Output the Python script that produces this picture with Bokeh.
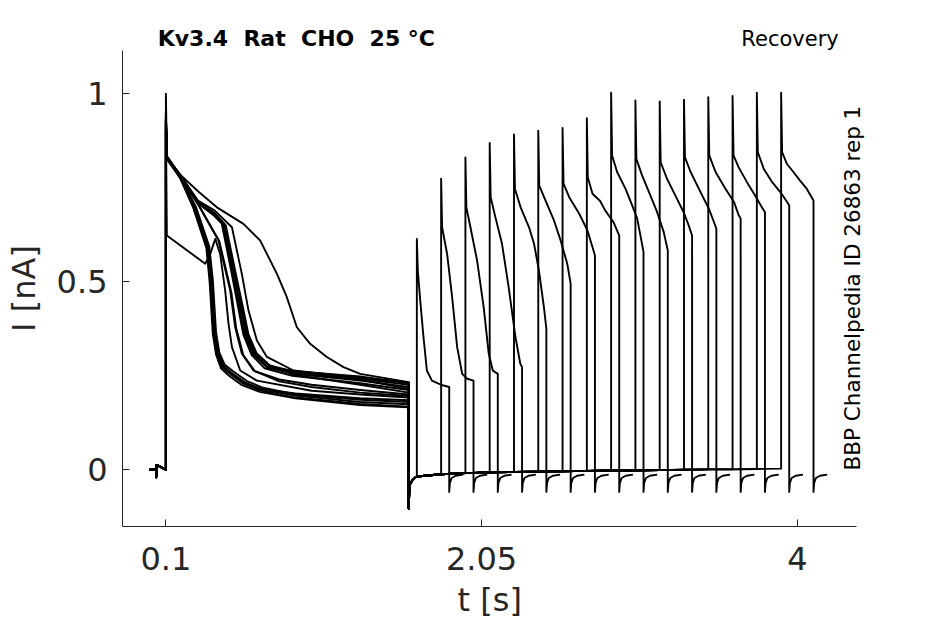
import math
from bokeh.plotting import figure
from bokeh.layouts import column
from bokeh.models import ColumnDataSource, Range1d, FixedTicker, Label, Title
from bokeh.embed import file_html
from bokeh.resources import INLINE

# ---------------- data ----------------
HOLD_T = [0.0, 0.038, 0.04, 0.042, 0.1]
HOLD_I = [0.0, 0.0, -0.02, 0.013, 0.0]

PRE_SPIKE = [1.0, 0.93, 0.94, 0.92, 0.95, 0.93, 0.9, 0.93,
             0.94, 0.92, 0.93, 0.91, 0.95, 0.93, 0.92, 0.94]

PRE_T = [
    [0.106, 0.188, 0.27, 0.353, 0.374, 0.384, 0.394, 0.415, 0.446, 0.497, 0.579, 0.682, 0.888, 1.3, 1.6],
    [0.106, 0.19, 0.28, 0.36, 0.382, 0.392, 0.402, 0.423, 0.455, 0.505, 0.59, 0.69, 0.9, 1.3, 1.6],
    [0.106, 0.19, 0.285, 0.368, 0.39, 0.4, 0.41, 0.43, 0.462, 0.515, 0.6, 0.7, 0.9, 1.3, 1.6],
    [0.106, 0.343, 0.374, 0.405, 0.435, 0.466, 0.487, 0.508, 0.559, 0.662, 1.0, 1.3, 1.6],
    [0.106, 0.188, 0.3, 0.425, 0.497, 0.528, 0.569, 0.641, 0.8, 1.0, 1.3, 1.6],
    [0.106, 0.188, 0.3, 0.4, 0.456, 0.518, 0.559, 0.59, 0.641, 0.724, 0.888, 1.3, 1.6],
    [0.106, 0.188, 0.3, 0.4, 0.445, 0.505, 0.545, 0.578, 0.63, 0.71, 0.88, 1.3, 1.6],
    [0.106, 0.188, 0.3, 0.4, 0.465, 0.528, 0.57, 0.6, 0.652, 0.735, 0.9, 1.3, 1.6],
    [0.106, 0.188, 0.3, 0.4, 0.45, 0.512, 0.552, 0.584, 0.636, 0.72, 0.89, 1.3, 1.6],
    [0.106, 0.188, 0.3, 0.4, 0.47, 0.535, 0.578, 0.61, 0.66, 0.745, 0.9, 1.3, 1.6],
    [0.106, 0.188, 0.3, 0.4, 0.508, 0.569, 0.61, 0.662, 0.724, 0.888, 1.3, 1.6],
    [0.106, 0.188, 0.3, 0.415, 0.579, 0.682, 0.786, 0.847, 0.909, 0.991, 1.094, 1.197, 1.3, 1.6],
    [0.106, 0.188, 0.27, 0.35, 0.37, 0.38, 0.39, 0.41, 0.44, 0.49, 0.57, 0.68, 0.9, 1.3, 1.6],
    [0.106, 0.188, 0.3, 0.43, 0.505, 0.535, 0.578, 0.65, 0.8, 1.0, 1.3, 1.6],
    [0.106, 0.188, 0.3, 0.4, 0.46, 0.522, 0.564, 0.595, 0.646, 0.73, 0.89, 1.3, 1.6],
    [0.106, 0.19, 0.28, 0.36, 0.38, 0.39, 0.4, 0.42, 0.45, 0.5, 0.58, 0.69, 0.9, 1.3, 1.6],
]
PRE_I = [
    [0.831, 0.778, 0.698, 0.592, 0.503, 0.432, 0.362, 0.309, 0.273, 0.255, 0.229, 0.211, 0.193, 0.175, 0.168],
    [0.826, 0.775, 0.694, 0.59, 0.5, 0.43, 0.36, 0.31, 0.277, 0.258, 0.232, 0.214, 0.197, 0.18, 0.174],
    [0.835, 0.78, 0.70, 0.594, 0.505, 0.435, 0.365, 0.312, 0.28, 0.262, 0.236, 0.218, 0.2, 0.186, 0.18],
    [0.623, 0.548, 0.574, 0.614, 0.574, 0.477, 0.388, 0.326, 0.264, 0.237, 0.21, 0.2, 0.192],
    [0.831, 0.78, 0.705, 0.61, 0.477, 0.379, 0.309, 0.264, 0.235, 0.22, 0.205, 0.196],
    [0.831, 0.782, 0.71, 0.68, 0.654, 0.521, 0.432, 0.362, 0.309, 0.273, 0.255, 0.237, 0.22],
    [0.829, 0.78, 0.708, 0.675, 0.655, 0.525, 0.435, 0.36, 0.305, 0.27, 0.25, 0.23, 0.212],
    [0.833, 0.784, 0.712, 0.682, 0.652, 0.518, 0.43, 0.364, 0.312, 0.278, 0.26, 0.242, 0.226],
    [0.83, 0.781, 0.709, 0.678, 0.655, 0.523, 0.433, 0.361, 0.307, 0.275, 0.262, 0.248, 0.23],
    [0.832, 0.783, 0.711, 0.683, 0.65, 0.515, 0.428, 0.36, 0.31, 0.276, 0.252, 0.226, 0.205],
    [0.831, 0.785, 0.715, 0.69, 0.645, 0.521, 0.424, 0.344, 0.30, 0.264, 0.245, 0.232],
    [0.831, 0.785, 0.74, 0.698, 0.654, 0.61, 0.521, 0.459, 0.379, 0.335, 0.30, 0.273, 0.255, 0.233],
    [0.828, 0.776, 0.696, 0.59, 0.5, 0.43, 0.36, 0.306, 0.27, 0.25, 0.225, 0.207, 0.19, 0.172, 0.166],
    [0.83, 0.781, 0.706, 0.608, 0.47, 0.375, 0.305, 0.262, 0.24, 0.226, 0.212, 0.2],
    [0.831, 0.782, 0.71, 0.679, 0.652, 0.52, 0.431, 0.363, 0.31, 0.272, 0.258, 0.24, 0.215],
    [0.83, 0.777, 0.697, 0.591, 0.502, 0.433, 0.364, 0.31, 0.275, 0.257, 0.232, 0.215, 0.203, 0.19, 0.185],
]

BASE_T = [1.6, 1.603, 1.609, 1.629, 1.65, 1.8, 1.95, 2.1, 2.25, 2.4, 2.55, 2.7,
          2.85, 3.0, 3.15, 3.3, 3.45, 3.6, 3.75, 3.9]
BASE_I = [-0.104, -0.06, -0.037, -0.024, -0.018, -0.012, -0.009, -0.007, -0.006, -0.005,
          -0.004, -0.003, -0.002, -0.002, -0.001, 0.0, 0.001, 0.001, 0.002, 0.003]

TEST_START = [1.65, 1.80, 1.95, 2.10, 2.25, 2.40, 2.55, 2.70,
              2.85, 3.00, 3.15, 3.30, 3.45, 3.60, 3.75, 3.90]
TEST_PEAK = [0.614, 0.774, 0.831, 0.869, 0.892, 0.902, 0.909, 0.935,
             1.003, 0.982, 0.980, 0.984, 0.991, 0.994, 1.003, 1.003]
TEST_DT = [
    [0.006, 0.021, 0.041, 0.062, 0.093, 0.134, 0.165, 0.2],
    [0.006, 0.037, 0.068, 0.099, 0.13, 0.161, 0.2],
    [0.006, 0.031, 0.072, 0.113, 0.144, 0.169, 0.2],
    [0.006, 0.035, 0.076, 0.117, 0.159, 0.189, 0.2],
    [0.006, 0.041, 0.093, 0.124, 0.154, 0.185, 0.2],
    [0.006, 0.045, 0.097, 0.138, 0.179, 0.2],
    [0.006, 0.041, 0.103, 0.154, 0.185, 0.2],
    [0.006, 0.035, 0.082, 0.113, 0.164, 0.2],
    [0.006, 0.037, 0.089, 0.13, 0.161, 0.185, 0.2],
    [0.006, 0.041, 0.093, 0.134, 0.175, 0.2],
    [0.006, 0.045, 0.097, 0.148, 0.179, 0.2],
    [0.006, 0.041, 0.103, 0.154, 0.185, 0.2],
    [0.006, 0.045, 0.107, 0.159, 0.189, 0.2],
    [0.006, 0.037, 0.089, 0.14, 0.181, 0.2],
    [0.006, 0.043, 0.095, 0.146, 0.187, 0.2],
    [0.006, 0.035, 0.076, 0.117, 0.159, 0.2],
]
TEST_I = [
    [0.53, 0.45, 0.353, 0.264, 0.237, 0.229, 0.224, 0.22],
    [0.645, 0.574, 0.459, 0.326, 0.255, 0.242, 0.237],
    [0.698, 0.645, 0.557, 0.432, 0.309, 0.264, 0.255],
    [0.725, 0.672, 0.601, 0.486, 0.353, 0.282, 0.273],
    [0.747, 0.698, 0.645, 0.601, 0.53, 0.432, 0.375],
    [0.756, 0.716, 0.663, 0.61, 0.548, 0.495],
    [0.761, 0.725, 0.681, 0.636, 0.592, 0.57],
    [0.778, 0.734, 0.715, 0.69, 0.659, 0.623],
    [0.836, 0.792, 0.747, 0.703, 0.668, 0.614, 0.579],
    [0.827, 0.783, 0.729, 0.685, 0.632, 0.583],
    [0.818, 0.774, 0.729, 0.685, 0.65, 0.623],
    [0.831, 0.792, 0.738, 0.694, 0.659, 0.641],
    [0.836, 0.792, 0.747, 0.712, 0.676, 0.668],
    [0.836, 0.805, 0.765, 0.729, 0.698, 0.685],
    [0.845, 0.80, 0.765, 0.738, 0.712, 0.703],
    [0.845, 0.814, 0.792, 0.769, 0.747, 0.716],
]
TEST_LEN = 0.2
TAIL_DT = [0.0, 0.004, 0.015, 0.04, 0.085]
TAIL_I = [-0.059, -0.035, -0.022, -0.016, -0.013]

X_TICKS = [0.1, 2.05, 4]
X_TICK_LABELS = ["0.1", "2.05", "4"]
Y_TICKS = [0, 0.5, 1]
Y_TICK_LABELS = ["0", "0.5", "1"]

# double gaps kept visible in SVG with a no-break space
TITLE = "Kv3.4\u00a0 Rat\u00a0 CHO\u00a0 25 °C"
PROTOCOL = "Recovery"
SOURCE = "BBP Channelpedia ID 26863 rep 1"

# ---------------- build traces ----------------
xs, ys = [], []
for k in range(len(TEST_START)):
    ts = TEST_START[k]
    tx = list(HOLD_T) + [HOLD_T[-1]] + PRE_T[k]
    ty = list(HOLD_I) + [PRE_SPIKE[k]] + PRE_I[k]
    for bt, bi in zip(BASE_T, BASE_I):
        if bt <= ts + 1e-9:
            tx.append(bt)
            ty.append(bi)
    tx.append(ts)
    ty.append(TEST_PEAK[k])
    tx += [ts + d for d in TEST_DT[k]]
    ty += TEST_I[k]
    tx += [ts + TEST_LEN + d for d in TAIL_DT]
    ty += TAIL_I
    xs.append(tx)
    ys.append(ty)

src = ColumnDataSource(dict(xs=xs, ys=ys))

AX = "#262626"
FONT = "DejaVu Sans"
X0, X1 = -0.168, 4.452          # frame extent (wider than the axis, room for side note)
AXIS_X = (-0.168, 4.364)        # visible axis line
Y0, Y1 = -0.151, 1.1152
FRAME_W, FRAME_H = 748, 476
BORDER_L, BORDER_R = 122, 10
HEADER_H = 50

# ---------------- header strip (title + protocol) ----------------
head = figure(frame_width=FRAME_W, frame_height=HEADER_H,
              x_range=Range1d(X0, X1), y_range=Range1d(HEADER_H, 0),
              output_backend="svg", toolbar_location=None,
              x_axis_location=None, y_axis_location=None,
              min_border_left=BORDER_L, min_border_right=BORDER_R,
              min_border_top=0, min_border_bottom=0)
head.outline_line_color = None
head.grid.visible = False
head.add_layout(Label(x=0.0494, y=37.9, text=TITLE, text_font=FONT,
                      text_font_style="bold", text_font_size="22px",
                      text_color="black", text_align="left",
                      text_baseline="alphabetic"))
head.add_layout(Label(x=4.2556, y=38.6, text=PROTOCOL, text_font=FONT,
                      text_font_size="21px", text_color="black",
                      text_align="right", text_baseline="alphabetic"))

# ---------------- main plot ----------------
p = figure(frame_width=FRAME_W, frame_height=FRAME_H,
           x_range=Range1d(X0, X1), y_range=Range1d(Y0, Y1),
           output_backend="svg", toolbar_location=None,
           min_border_left=BORDER_L, min_border_top=0,
           min_border_right=BORDER_R, min_border_bottom=20)
p.outline_line_color = None
p.grid.visible = False
p.background_fill_color = "white"
p.border_fill_color = "white"

p.multi_line("xs", "ys", source=src, line_color="black", line_width=1.9,
             line_join="round")

xa = p.xaxis[0]
ya = p.yaxis[0]
xa.bounds = AXIS_X
ya.bounds = (Y0, Y1)
xa.ticker = FixedTicker(ticks=X_TICKS)
ya.ticker = FixedTicker(ticks=Y_TICKS)
xa.major_label_overrides = {t: l for t, l in zip(X_TICKS, X_TICK_LABELS)}
ya.major_label_overrides = {t: l for t, l in zip(Y_TICKS, Y_TICK_LABELS)}
ya.axis_label = "I [nA]"
for ax in (xa, ya):
    ax.axis_line_color = AX
    ax.axis_line_width = 1
    ax.major_tick_line_color = AX
    ax.major_tick_in = 7
    ax.major_tick_out = 0
    ax.minor_tick_in = 0
    ax.minor_tick_out = 0
    ax.major_label_text_font = FONT
    ax.major_label_text_font_size = "32px"
    ax.major_label_text_color = AX
    ax.axis_label_text_font = FONT
    ax.axis_label_text_font_size = "32px"
    ax.axis_label_text_font_style = "normal"
    ax.axis_label_text_color = AX
xa.major_label_standoff = 20
ya.major_label_standoff = 15
ya.axis_label_standoff = 11

# x-axis label, centred under the axis line (not the wider frame)
p.add_layout(Title(text="t [s]", align="left", offset=335,
                   vertical_align="top", standoff=16,
                   text_font=FONT, text_font_size="32px",
                   text_font_style="normal", text_color=AX), "below")

# vertical source note at the right edge of the axes
p.add_layout(Label(x=4.3409, y=-0.002, text=SOURCE, text_font=FONT,
                   text_font_size="21.5px", text_color="black",
                   angle=math.pi / 2, text_align="left",
                   text_baseline="alphabetic"))

layout = column(head, p, spacing=0)
open("out.html", "w").write(file_html(layout, INLINE))
